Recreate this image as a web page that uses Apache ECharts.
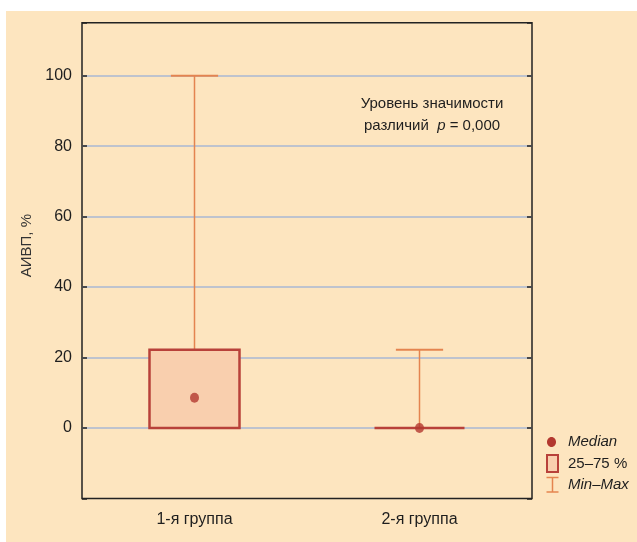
<!DOCTYPE html>
<html>
<head>
<meta charset="utf-8">
<script src="https://cdn.jsdelivr.net/npm/echarts@6/dist/echarts.min.js"></script>
<style>
  html, body { margin: 0; padding: 0; background: #fff; }
  #chart { width: 637px; height: 542px; }
</style>
</head>
<body>
<div id="chart"></div>
<script>
var categories = ['1-я группа', '2-я группа'];
var minVals = [0, 0];
var q1Vals = [0, 0];
var medianVals = [8.6, 0];
var q3Vals = [22.2, 0];
var maxVals = [100, 22.2];

var font = '"Liberation Sans Narrow", "Liberation Sans", Arial, sans-serif';
var ink = '#1e1e1e';
var paper = '#fde5bf';
var boxFill = '#f9cfae';
var boxLine = '#b8413a';
var whisker = '#e4844f';
var dot = '#b3382f';
var gridCol = '#bec3ce';

var rows = categories.map(function (c, i) {
  return [i, minVals[i], q1Vals[i], q3Vals[i], maxVals[i]];
});

var chart = echarts.init(document.getElementById('chart'), null, { renderer: 'canvas' });
chart.setOption({
  animation: false,
  backgroundColor: '#fff',
  textStyle: { fontFamily: font },
  grid: {
    left: 82, right: 105, top: 22.8, bottom: 43.5,
    show: true, borderColor: '#222', borderWidth: 1.5
  },
  xAxis: [{
    type: 'category',
    data: categories,
    axisLine: { show: false },
    axisTick: { inside: true, alignWithLabel: true, length: 5, lineStyle: { color: '#222', width: 1.5 } },
    axisLabel: { color: ink, fontSize: 16, margin: 13, fontFamily: font }
  }, {
    type: 'category',
    position: 'top',
    data: categories,
    axisLine: { show: false },
    axisTick: { inside: true, alignWithLabel: true, length: 5, lineStyle: { color: '#222', width: 1.5 } },
    axisLabel: { show: false }
  }],
  yAxis: [{
    type: 'value',
    min: -20, max: 115, interval: 20,
    name: 'АИВП, %',
    nameLocation: 'middle',
    nameGap: 43,
    nameTextStyle: { color: '#333', fontSize: 15, fontFamily: font, padding: [0, 0, 0, 30] },
    axisLine: { show: false },
    axisTick: { show: true, inside: true, length: 5, lineStyle: { color: '#222', width: 1.5 } },
    axisLabel: {
      color: ink, fontSize: 16, margin: 10, fontFamily: font,
      formatter: function (v) { return (v >= 0 && v % 20 === 0) ? v : ''; }
    },
    splitLine: { showMinLine: false, showMaxLine: false, lineStyle: { color: gridCol, width: 2 } }
  }, {
    type: 'value',
    position: 'right',
    min: -20, max: 115, interval: 20,
    axisLine: { show: false },
    axisTick: { show: true, inside: true, length: 5, lineStyle: { color: '#222', width: 1.5 } },
    axisLabel: { show: false },
    splitLine: { show: false }
  }],
  series: [{
    name: 'Min–Max',
    type: 'custom',
    data: rows,
    renderItem: function (params, api) {
      var band = api.size([1, 0])[0];
      var capW = band * 0.105;
      var top = api.coord([api.value(0), api.value(4)]);
      var q3 = api.coord([api.value(0), api.value(3)]);
      var bot = api.coord([api.value(0), api.value(1)]);
      var q1 = api.coord([api.value(0), api.value(2)]);
      var st = { stroke: whisker, lineWidth: 1.5, fill: null };
      var kids = [
        { type: 'line', shape: { x1: top[0], y1: top[1], x2: q3[0], y2: q3[1] }, style: st },
        { type: 'line', shape: { x1: top[0] - capW, y1: top[1], x2: top[0] + capW, y2: top[1] }, style: { stroke: whisker, lineWidth: 2 } }
      ];
      if (api.value(1) < api.value(2)) {
        kids.push({ type: 'line', shape: { x1: bot[0], y1: bot[1], x2: q1[0], y2: q1[1] }, style: st });
        kids.push({ type: 'line', shape: { x1: bot[0] - capW, y1: bot[1], x2: bot[0] + capW, y2: bot[1] }, style: { stroke: whisker, lineWidth: 2 } });
      }
      return { type: 'group', children: kids };
    },
    z: 3
  }, {
    name: '25–75 %',
    type: 'custom',
    data: rows,
    renderItem: function (params, api) {
      var band = api.size([1, 0])[0];
      var w = band * 0.4;
      var hi = api.coord([api.value(0), api.value(3)]);
      var lo = api.coord([api.value(0), api.value(2)]);
      return {
        type: 'rect',
        shape: { x: hi[0] - w / 2, y: hi[1], width: w, height: lo[1] - hi[1] },
        style: { fill: boxFill, stroke: boxLine, lineWidth: 2.5 }
      };
    },
    z: 4
  }, {
    name: 'Median',
    type: 'scatter',
    data: medianVals,
    symbol: 'circle',
    symbolSize: [9, 10],
    itemStyle: { color: dot },
    z: 5
  }],
  graphic: [
    { type: 'rect', z: -100, shape: { x: 6, y: 11, width: 640, height: 540 }, style: { fill: paper } },
    {
      type: 'text', x: 432, y: 115, z: 10,
      style: {
        text: '{a|Уровень значимости}\n{a|различий  }{p|p}{a| = 0,000}',
        align: 'center', verticalAlign: 'middle',
        rich: {
          a: { fontSize: 15, fontFamily: font, fill: ink, lineHeight: 22 },
          p: { fontSize: 15, fontFamily: font, fill: ink, fontStyle: 'italic', lineHeight: 22 }
        }
      }
    },
    {
      type: 'group', x: 546, y: 437, z: 10,
      children: [
        { type: 'ellipse', shape: { cx: 5.5, cy: 5, rx: 4.5, ry: 5 }, style: { fill: dot } },
        { type: 'text', x: 22, y: 5, style: { text: 'Median', fontSize: 15, fontStyle: 'italic', fontFamily: font, fill: ink, verticalAlign: 'middle' } },
        { type: 'rect', shape: { x: 1, y: 18, width: 11, height: 17 }, style: { fill: boxFill, stroke: boxLine, lineWidth: 2 } },
        { type: 'text', x: 22, y: 26.5, style: { text: '25–75 %', fontSize: 15, fontFamily: font, fill: ink, verticalAlign: 'middle' } },
        { type: 'line', shape: { x1: 6.5, y1: 40, x2: 6.5, y2: 55 }, style: { stroke: whisker, lineWidth: 1.5 } },
        { type: 'line', shape: { x1: 0.5, y1: 40.5, x2: 12.5, y2: 40.5 }, style: { stroke: whisker, lineWidth: 1.5 } },
        { type: 'line', shape: { x1: 0.5, y1: 55, x2: 12.5, y2: 55 }, style: { stroke: whisker, lineWidth: 1.5 } },
        { type: 'text', x: 22, y: 48, style: { text: 'Min–Max', fontSize: 15, fontStyle: 'italic', fontFamily: font, fill: ink, verticalAlign: 'middle' } }
      ]
    }
  ]
});
window.addEventListener('resize', function () { chart.resize(); });
</script>
</body>
</html>
